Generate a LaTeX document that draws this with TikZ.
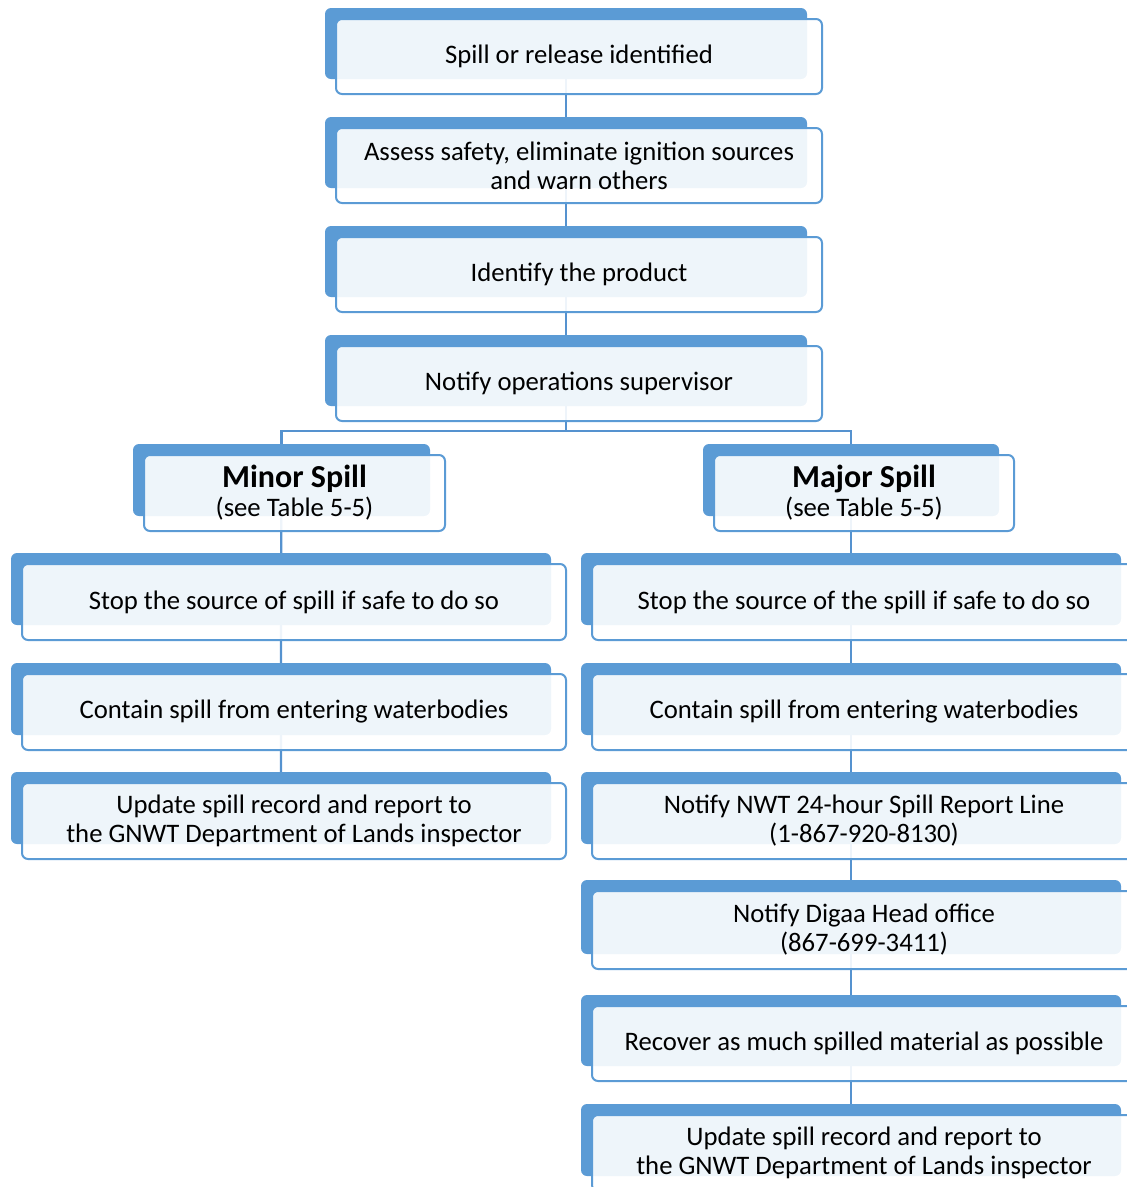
\documentclass[tikz,border=0pt]{standalone}
\usepackage{fontspec}
\setmainfont{Carlito}
\usetikzlibrary{backgrounds}
\definecolor{sablue}{HTML}{5B9BD5}
\definecolor{linkblue}{HTML}{5592CF}
\tikzset{
  backbox/.style={fill=sablue, draw=none, rounded corners=6pt, inner sep=0pt},
  frontbox/.style={fill=white, fill opacity=0.9, text opacity=1, draw=sablue, draw opacity=1,
    line width=2pt, rounded corners=6pt, inner sep=0pt, align=center,
    font=\fontsize{26.7}{29}\selectfont},
  link/.style={draw=linkblue, line width=2.2pt}
}
\newcommand\flowbox[6]{%
  \node[backbox, minimum width={#4-#2}, minimum height={#5-#3}] (#1b) at ({(#2+#4)/2},{(#3+#5)/2}) {};
  \node[frontbox, minimum width={#4-#2+4}, minimum height={#5-#3+4}] (#1) at ({(#2+#4)/2+13},{(#3+#5)/2+13}) {#6};
}
\newcommand\spilltitle[1]{{\fontsize{32}{33}\selectfont\bfseries #1}}
\begin{document}
\begin{tikzpicture}[x=1pt,y=-1pt]
\useasboundingbox (0,0) rectangle (1127,1187);
\clip (0,0) rectangle (1127,1187);
% top chain
\flowbox{t1}{325}{8}{807}{79}{Spill or release identified}
\flowbox{t2}{325}{117}{807}{188}{Assess safety, eliminate ignition sources\\and warn others}
\flowbox{t3}{325}{226}{807}{297}{Identify the product}
\flowbox{t4}{325}{335}{807}{406}{Notify operations supervisor}
% branches
\flowbox{mi}{133}{444}{430}{516}{\spilltitle{Minor Spill}\\(see Table 5-5)}
\flowbox{ma}{703}{444}{999}{516}{\spilltitle{Major Spill}\\(see Table 5-5)}
% left column
\flowbox{l1}{11}{553}{551}{625}{Stop the source of spill if safe to do so}
\flowbox{l2}{11}{663}{551}{735}{Contain spill from entering waterbodies}
\flowbox{l3}{11}{772}{551}{844}{Update spill record and report to\\the GNWT Department of Lands inspector}
% right column
\flowbox{r1}{581}{553}{1121}{625}{Stop the source of the spill if safe to do so}
\flowbox{r2}{581}{663}{1121}{735}{Contain spill from entering waterbodies}
\flowbox{r3}{581}{772}{1121}{844}{Notify NWT 24-hour Spill Report Line\\(1-867-920-8130)}
\flowbox{r4}{581}{880}{1121}{954}{Notify Digaa Head office\\(867-699-3411)}
\flowbox{r5}{581}{995}{1121}{1066}{Recover as much spilled material as possible}
\flowbox{r6}{581}{1104}{1121}{1176}{Update spill record and report to\\the GNWT Department of Lands inspector}
\coordinate (split) at (566,431);
\begin{scope}[on background layer]
  \draw[link] (t1b.center) -- (t2b.center) -- (t3b.center) -- (t4b.center) -- (split);
  \draw[link] (split) -| (mib.center);
  \draw[link] (split) -| (mab.center);
  \draw[link] (mib.center) -- (l1b.center) -- (l2b.center) -- (l3b.center);
  \draw[link] (mab.center) -- (r1b.center) -- (r2b.center) -- (r3b.center) -- (r4b.center) -- (r5b.center) -- (r6b.center);
\end{scope}
\end{tikzpicture}
\end{document}
